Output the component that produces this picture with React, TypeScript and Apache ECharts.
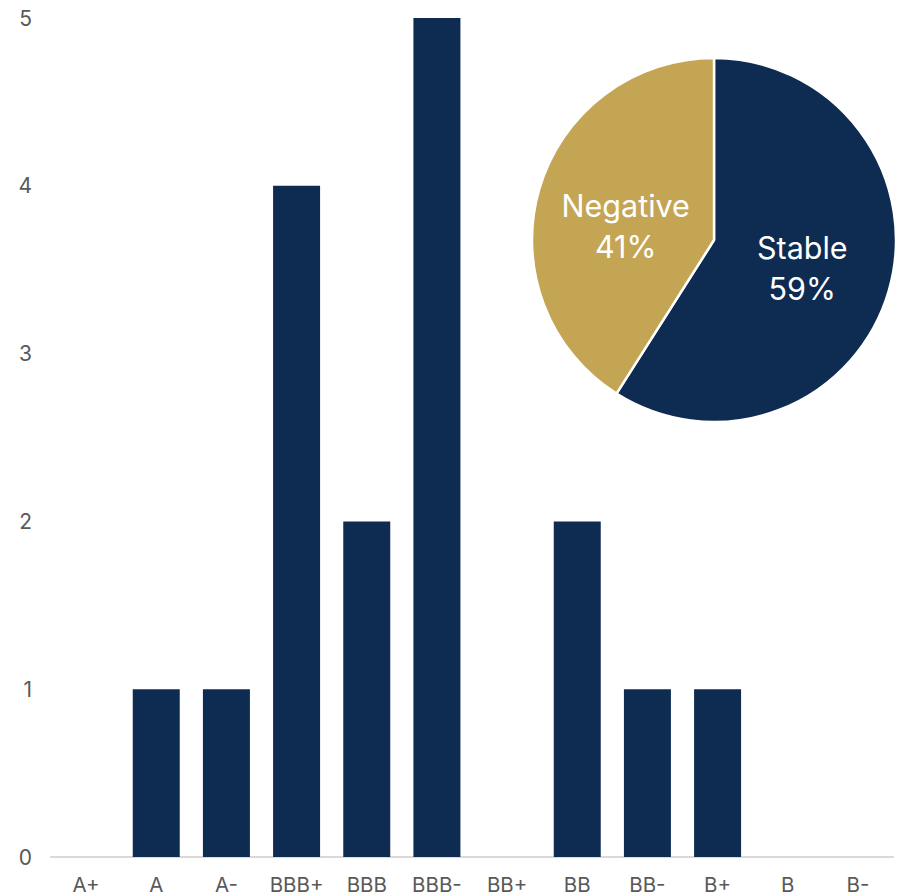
import React, { useEffect, useRef } from "react";
import * as echarts from "echarts";

const ratings = ["A+", "A", "A-", "BBB+", "BBB", "BBB-", "BB+", "BB", "BB-", "B+", "B", "B-"];
const counts = [0, 1, 1, 4, 2, 5, 0, 2, 1, 1, 0, 0];
const outlookNames = ["Stable", "Negative"];
const outlookShares = [59, 41];

const NAVY = "#0E2B51";
const GOLD = "#C4A553";
const FONT = "Inter, Roboto, sans-serif";

export default function App() {
  const ref = useRef<HTMLDivElement>(null);

  useEffect(() => {
    if (!ref.current) return;
    const chart = echarts.init(ref.current, undefined, { renderer: "svg" });
    chart.setOption({
      animation: false,
      textStyle: { fontFamily: FONT },
      grid: { left: 51, right: 4, top: 18, bottom: 39, containLabel: false },
      xAxis: {
        type: "category",
        data: ratings,
        axisLine: { lineStyle: { color: "#D9D9D9", width: 2 } },
        axisTick: { show: false },
        axisLabel: {
          color: "#595959",
          fontSize: 20.5,
          lineHeight: 20,
          margin: 17,
          interval: 0,
          hideOverlap: false,
          fontFamily: FONT,
        },
      },
      yAxis: {
        type: "value",
        min: 0,
        max: 5,
        interval: 1,
        splitLine: { show: false },
        axisLine: { show: false },
        axisTick: { show: false },
        axisLabel: { color: "#595959", fontSize: 21, margin: 19, fontFamily: FONT },
      },
      series: [
        {
          type: "bar",
          data: counts,
          barWidth: 47,
          itemStyle: { color: NAVY },
        },
        {
          type: "pie",
          center: [714, 240],
          radius: 182,
          startAngle: 90,
          clockwise: true,
          data: outlookNames.map((name, i) => ({
            name,
            value: outlookShares[i],
            itemStyle: { color: i === 0 ? NAVY : GOLD },
            label: { offset: i === 0 ? [-2, 2] : [2, 12] },
          })),
          itemStyle: { borderColor: "#FFFFFF", borderWidth: 2.5 },
          label: {
            position: "inner",
            color: "#FFFFFF",
            fontSize: 30.5,
            lineHeight: 41,
            fontFamily: FONT,
            formatter: (p: any) => `${p.name}\n${p.value}%`,
          },
          labelLine: { show: false },
        },
      ],
    });
    return () => chart.dispose();
  }, []);

  return (
    <div
      ref={ref}
      style={{ position: "fixed", left: 0, top: 0, width: 897, height: 896, background: "#FFFFFF" }}
    />
  );
}
